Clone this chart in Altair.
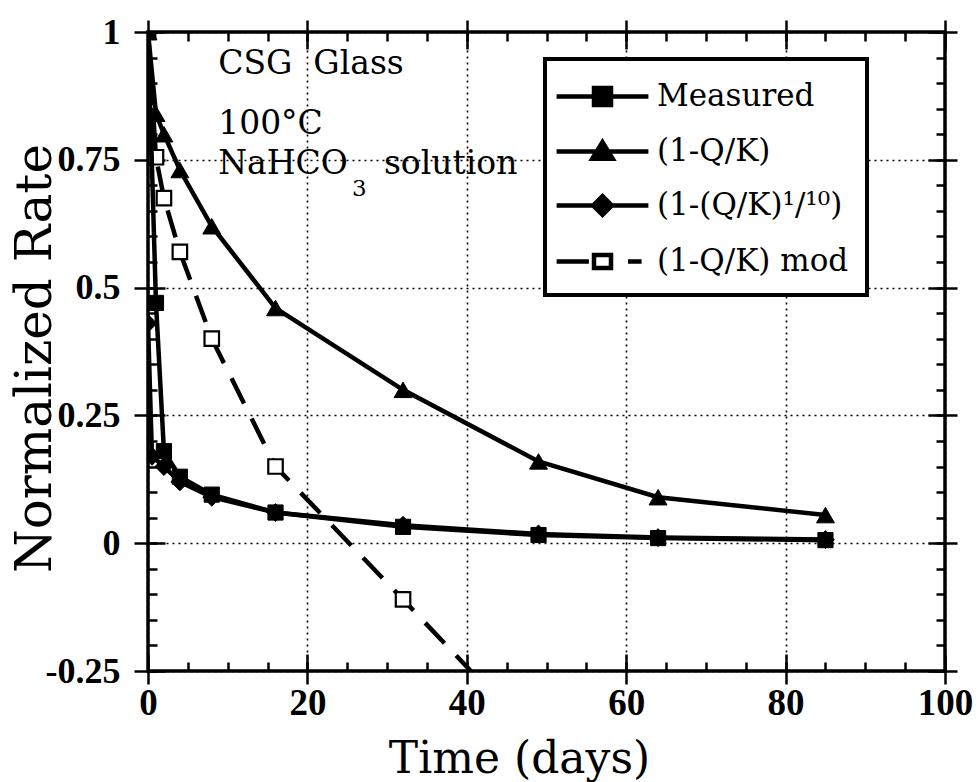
import altair as alt
import pandas as pd

# ---- data ----
series_names = ["Measured", "(1-Q/K)", "(1-(Q/K)¹/¹⁰)", "(1-Q/K) mod"]

measured_t = [0, 1, 2, 4, 8, 16, 32, 49, 64, 85]
measured_v = [1.0, 0.47, 0.18, 0.13, 0.095, 0.06, 0.032, 0.016, 0.01, 0.006]

qk_t = [0, 1, 2, 4, 8, 16, 32, 49, 64, 85]
qk_v = [1.0, 0.84, 0.80, 0.73, 0.62, 0.46, 0.30, 0.16, 0.09, 0.055]

qk10_t = [0, 0.5, 2, 4, 8, 16, 32, 49, 64, 85]
qk10_v = [0.43, 0.17, 0.15, 0.12, 0.09, 0.06, 0.035, 0.018, 0.011, 0.007]

mod_t = [0, 1, 2, 4, 8, 16, 32, 49]
mod_v = [1.0, 0.755, 0.675, 0.57, 0.40, 0.15, -0.11, -0.39]

x_major = [0, 20, 40, 60, 80, 100]
x_minor = list(range(0, 101, 5))
y_major = [-0.25, 0, 0.25, 0.5, 0.75, 1]
y_minor = [round(-0.25 + 0.05 * i, 2) for i in range(26)]

# annotation texts (position in data units)
ann_text = ["CSG\u00a0 Glass", "100°C", "NaHCO", "3", "solution"]
ann_t = [8.8, 8.8, 8.8, 25.6, 29.6]
ann_v = [0.918, 0.80, 0.722, 0.68, 0.722]
ann_size = [33, 33, 33, 23, 33]

rows = []
for name, ts, vs in zip(series_names, [measured_t, qk_t, qk10_t, mod_t],
                        [measured_v, qk_v, qk10_v, mod_v]):
    for t, v in zip(ts, vs):
        rows.append({"t": t, "rate": v, "series": name})
df = pd.DataFrame(rows)
ann = pd.DataFrame({"text": ann_text, "t": ann_t, "rate": ann_v, "size": ann_size})

SERIF = "DejaVu Serif"
NUMF = "Liberation Serif"

xs = alt.Scale(domain=[0, 100], nice=False, zero=False)
ys = alt.Scale(domain=[-0.25, 1], nice=False, zero=False)


def tick_axis(orient, values, size, offset=0):
    return alt.Axis(orient=orient, values=values, tickSize=size, offset=offset,
                    tickColor="black", tickWidth=2.5, labels=False, domain=False,
                    grid=False, title=None)


def axis_layer(xaxis, yaxis):
    return alt.Chart(df).mark_point(opacity=0).encode(
        x=alt.X("t:Q", scale=xs, axis=xaxis),
        y=alt.Y("rate:Q", scale=ys, axis=yaxis),
    )


main_x = alt.Axis(orient="bottom", values=x_major, tickSize=13, tickWidth=2.5,
                  tickColor="black", domain=False, grid=True, gridColor="black",
                  gridDash=[2, 4], gridWidth=1.6, labelFont=NUMF, labelFontSize=37,
                  labelFontWeight="bold", labelColor="black", labelPadding=1,
                  labelFlush=False, labelOverlap=False, title="Time (days)",
                  titleFont=SERIF, titleFontSize=44, titleFontWeight="normal",
                  titleColor="black", titleX=371, titleY=101, titleBaseline="alphabetic",
                  titleAlign="center", titleAnchor="start")
main_y = alt.Axis(orient="left", values=y_major, tickSize=14, tickWidth=2.5,
                  tickColor="black", domain=False, grid=True, gridColor="black",
                  gridDash=[2, 4], gridWidth=1.6, labelFont=NUMF, labelFontSize=36,
                  labelFontWeight="bold", labelColor="black", labelPadding=14,
                  labelFlush=False, labelOverlap=False,
                  labelExpr="'' + datum.value",
                  title="Normalized Rate", titleFont=SERIF, titleFontSize=50,
                  titleFontWeight="normal", titleColor="black", titleX=-98, titleY=326,
                  titleBaseline="alphabetic", titleAlign="center", titleAngle=270,
                  titleAnchor="start")

layers = [
    axis_layer(main_x, main_y),
    axis_layer(tick_axis("top", x_major, 12), tick_axis("right", y_major, 12)),
    axis_layer(tick_axis("bottom", x_major, 17, -17), tick_axis("left", y_major, 17, -17)),
    axis_layer(tick_axis("top", x_major, 17, -17), tick_axis("right", y_major, 17, -17)),
    axis_layer(tick_axis("bottom", x_minor, 9, -9), tick_axis("left", y_minor, 9, -9)),
    axis_layer(tick_axis("top", x_minor, 9, -9), tick_axis("right", y_minor, 9, -9)),
]

X = alt.X("t:Q", scale=xs, axis=None)
Y = alt.Y("rate:Q", scale=ys, axis=None)


def series_layers(name, shape, size, filled, dash=None):
    d = df[df["series"] == name]
    line_kw = dict(color="black", strokeWidth=4.5, clip=True)
    if dash:
        line_kw["strokeDash"] = dash
    line = alt.Chart(d).mark_line(**line_kw).encode(x=X, y=Y)
    pts = alt.Chart(d).transform_filter("datum.rate >= -0.25").mark_point(
        shape=shape, size=size, filled=True, opacity=1,
        fill="black" if filled else "white", stroke="black",
        strokeWidth=1 if filled else 2.2, clip=True).encode(x=X, y=Y)
    return [line, pts]


layers += series_layers("(1-Q/K) mod", "square", 210, False, [28, 17])
layers += series_layers("(1-(Q/K)¹/¹⁰)", "diamond", 320, True)
layers += series_layers("(1-Q/K)", "triangle-up", 320, True)
layers += series_layers("Measured", "square", 230, True)

# annotations
text_layer = alt.Chart(ann).mark_text(font=SERIF, align="left", baseline="alphabetic",
                                      color="black").encode(
    x=X, y=Y, text="text:N", size=alt.Size("size:Q", scale=None, legend=None))
layers.append(text_layer)

# legend (custom line+marker symbols); the layer itself draws nothing
leg_paths = [
    "M-2.7,0H2.7M-0.5,-0.5H0.5V0.5H-0.5Z",
    "M-2.7,0H2.7M0,-0.55L0.6,0.42H-0.6Z",
    "M-2.7,0H2.7M0,-0.55L0.55,0L0,0.55L-0.55,0Z",
    "M-2.7,0H-0.8M1.5,0H2.3M-0.5,-0.38H0.5V0.38H-0.5Z",
]
leg_fill = ["black", "black", "black", "white"]
leg_stroke = ["black", "black", "black", "black"]
legend = alt.Legend(orient="none", legendX=397, legendY=27, title=None,
                    labelFont=SERIF, labelFontSize=31, labelColor="black",
                    labelLimit=500, symbolSize=1156, symbolStrokeWidth=4.5,
                    symbolStrokeColor="black", symbolOpacity=1, symbolOffset=20,
                    labelOffset=35, rowPadding=18, padding=18,
                    strokeColor="black", fillColor="white")
legend_layer = alt.Chart(df).transform_filter("datum.t < -1000").mark_point(
    filled=False, strokeWidth=4.5).encode(
    x=X, y=Y,
    shape=alt.Shape("series:N", scale=alt.Scale(domain=series_names, range=leg_paths),
                    legend=legend),
    fill=alt.Fill("series:N", scale=alt.Scale(domain=series_names, range=leg_fill),
                  legend=legend),
    stroke=alt.Stroke("series:N", scale=alt.Scale(domain=series_names, range=leg_stroke),
                      legend=legend),
)
layers.append(legend_layer)

chart = alt.layer(*layers).resolve_axis(x="independent", y="independent").properties(
    width=797, height=639,
    autosize=alt.AutoSizeParams(type="none"),
    padding={"left": 148, "top": 32, "right": 33, "bottom": 111},
    background="white",
).configure_view(stroke="black", strokeWidth=3.5).configure_legend(strokeWidth=4)

chart.save("out.html", embed_options={"renderer": "svg", "actions": False})
